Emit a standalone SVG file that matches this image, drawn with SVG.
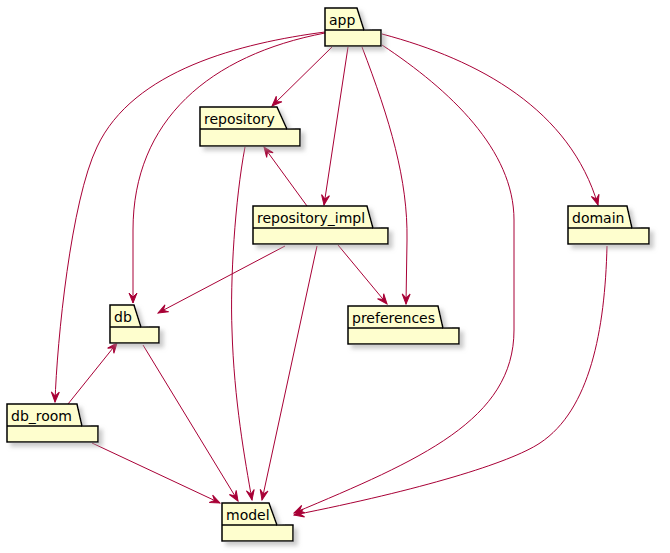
<svg xmlns="http://www.w3.org/2000/svg" width="670" height="553" viewBox="0 0 670 553">
<style>
.pkg{fill:#FEFECE;stroke:#000;stroke-width:1.5;filter:url(#sh)}
.ln{fill:none;stroke:#000;stroke-width:1.5}
.lbl{font-family:"DejaVu Sans",sans-serif;font-size:14px;fill:#000}
.e{fill:none;stroke:#A80036;stroke-width:1;marker-end:url(#arr)}
</style>
<defs>
<filter id="sh" x="-20%" y="-20%" width="150%" height="170%">
<feGaussianBlur in="SourceAlpha" stdDeviation="2"/>
<feColorMatrix type="matrix" values="0 0 0 0 0.35 0 0 0 0 0.35 0 0 0 0 0.35 0 0 0 0.55 0"/>
<feOffset dx="4" dy="4" result="s"/>
<feMerge><feMergeNode in="s"/><feMergeNode in="SourceGraphic"/></feMerge>
</filter>
<marker id="arr" viewBox="-11 -5 12 10" refX="0" refY="0" markerWidth="12" markerHeight="10" markerUnits="userSpaceOnUse" orient="auto">
<path d="M0,0 L-10,-4 L-6,0 L-10,4 Z" fill="#A80036" stroke="#A80036" stroke-width="1" stroke-linejoin="miter"/>
</marker>
</defs>
<rect width="670" height="553" fill="#fff"/>
<g id="edges">
<path class="e" d="M332,47 L272,106"/>
<path class="e" d="M325,33 C210,55 133,120 133,230 L133,303"/>
<path class="e" d="M325,32 C241,43 133,70 97,147 C71,201 57,340 55,402"/>
<path class="e" d="M348,47 L324,205"/>
<path class="e" d="M362,47 C390,120 408,180 407,240 L406,304"/>
<path class="e" d="M382,45 C450,90 514,150 514,220 L514,330 C514,420 420,460 294,513"/>
<path class="e" d="M382,34 C480,60 570,110 598,205"/>
<path class="e" d="M245,147 C235,200 230,280 232,330 C234,400 245,460 252,500"/>
<path class="e" d="M307,206 L264,147"/>
<path class="e" d="M285,246 L158,313"/>
<path class="e" d="M317,246 L262,500"/>
<path class="e" d="M338,245 L387,304"/>
<path class="e" d="M143,345 L238,501"/>
<path class="e" d="M68,404 L117,343"/>
<path class="e" d="M92,443 L220,503"/>
<path class="e" d="M607,246 C605,330 590,410 540,443 C510,463 420,490 294,515"/>
</g>
<g id="app">
<path class="pkg" d="M325,8 L357,8 L364,30 L381,30 L381,46 L325,46 Z"/>
<path class="ln" d="M325,30 L364,30"/>
<text class="lbl" x="329" y="25">app</text>
</g>
<g id="repository">
<path class="pkg" d="M200,107 L277,107 L287,129 L300,129 L300,146 L200,146 Z"/>
<path class="ln" d="M200,129 L287,129"/>
<text class="lbl" x="204" y="124">repository</text>
</g>
<g id="repository_impl">
<path class="pkg" d="M253,206 L367,206 L373,228 L388,228 L388,244 L253,244 Z"/>
<path class="ln" d="M253,228 L373,228"/>
<text class="lbl" x="257" y="223">repository_impl</text>
</g>
<g id="db">
<path class="pkg" d="M110,305 L134,305 L141,327 L159,327 L159,343 L110,343 Z"/>
<path class="ln" d="M110,327 L141,327"/>
<text class="lbl" x="114" y="322">db</text>
</g>
<g id="db_room">
<path class="pkg" d="M7,404 L77,404 L82,426 L98,426 L98,442 L7,442 Z"/>
<path class="ln" d="M7,426 L82,426"/>
<text class="lbl" x="11" y="421">db_room</text>
</g>
<g id="model">
<path class="pkg" d="M222,503 L269,503 L277,525 L293,525 L293,541 L222,541 Z"/>
<path class="ln" d="M222,525 L277,525"/>
<text class="lbl" x="226" y="520">model</text>
</g>
<g id="preferences">
<path class="pkg" d="M348,306 L438,306 L443,328 L459,328 L459,344 L348,344 Z"/>
<path class="ln" d="M348,328 L443,328"/>
<text class="lbl" x="352" y="323">preferences</text>
</g>
<g id="domain">
<path class="pkg" d="M568,206 L627,206 L632,228 L649,228 L649,244 L568,244 Z"/>
<path class="ln" d="M568,228 L632,228"/>
<text class="lbl" x="572" y="223">domain</text>
</g>
</svg>
